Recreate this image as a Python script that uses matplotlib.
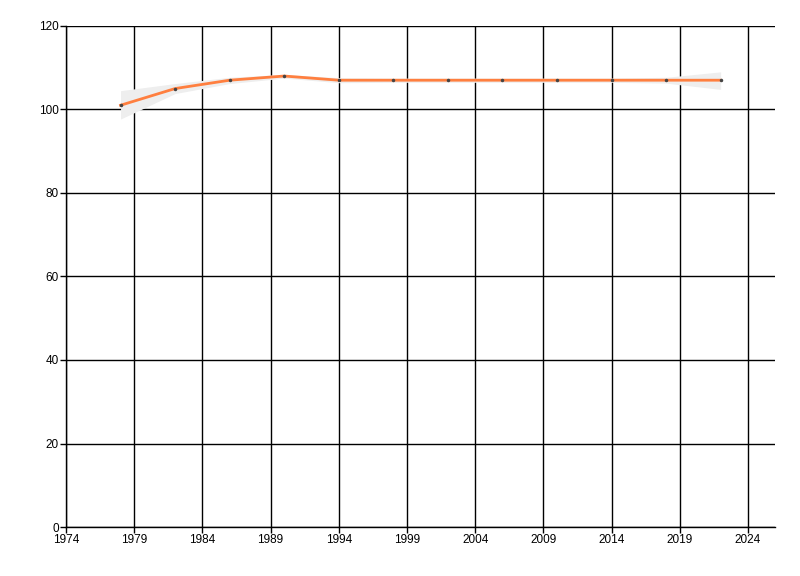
import matplotlib.pyplot as plt

years = [1978, 1982, 1986, 1990, 1994, 1998, 2002, 2006, 2010, 2014, 2018, 2022]
values = [101, 105, 107, 108, 107, 107, 107, 107, 107, 107, 107, 107]
band_low = [97.7, 103.8, 106.2, 107.5, 106.4, 106.5, 106.5, 106.5, 106.5, 106.5, 106.3, 104.8]
band_high = [104.5, 106.2, 107.7, 108.4, 107.6, 107.5, 107.5, 107.5, 107.5, 107.5, 107.7, 109.0]

x_ticks = list(range(1974, 2025, 5))
y_ticks = list(range(0, 121, 20))

plt.rcParams['font.family'] = ['Liberation Sans', 'DejaVu Sans']

fig = plt.figure(figsize=(8, 5.76), dpi=100)
ax = fig.add_axes([0.0825, 0.085, 0.8865, 0.87])

ax.fill_between(years, band_low, band_high, color='#eeeeee', linewidth=0, zorder=2)
ax.plot(years, values, color='#ff7f3f', linewidth=2, zorder=3)
ax.plot(years, values, linestyle='none', marker='o', markersize=1.5,
        color='#444444', zorder=4)

ax.set_xlim(1974, 2026)
ax.set_ylim(0, 120)
ax.set_xticks(x_ticks)
ax.set_yticks(y_ticks)
ax.grid(True, color='black', linewidth=1, zorder=1)
ax.set_axisbelow(True)

for s in ['top', 'right']:
    ax.spines[s].set_visible(False)
for s in ['left', 'bottom']:
    ax.spines[s].set_linewidth(1)

ax.tick_params(axis='both', labelsize=8.5, length=4, width=1, pad=1)

fig.savefig('out.png', dpi=100)
